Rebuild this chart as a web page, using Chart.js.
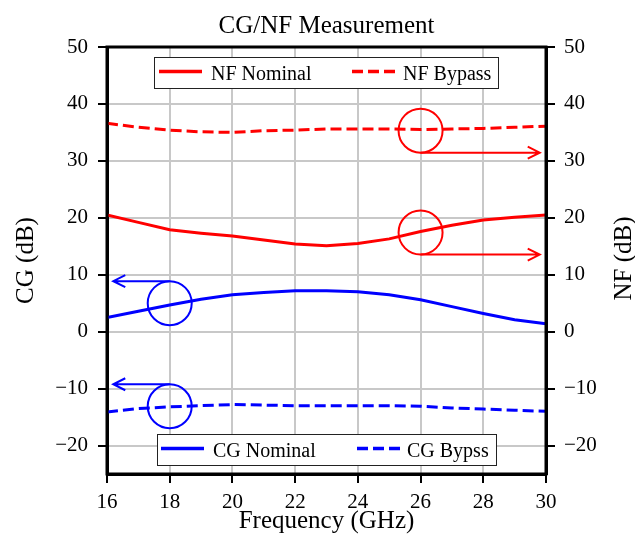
<!DOCTYPE html>
<html>
<head>
<meta charset="utf-8">
<title>CG/NF Measurement</title>
<script src="https://cdn.jsdelivr.net/npm/chart.js@4.4.1/dist/chart.umd.min.js"></script>
<style>
  html, body { margin: 0; padding: 0; background: #fff; }
  #wrap { width: 635px; height: 543px; }
</style>
</head>
<body>
<div id="wrap"><canvas id="cgnfChart" width="635" height="543"></canvas></div>
<script>
// frequência (GHz)
const freq = [16, 17, 18, 19, 20, 21, 22, 23, 24, 25, 26, 27, 28, 29, 30];

// séries (dB)
const nfNominal = [20.5, 19.2, 17.9, 17.3, 16.8, 16.1, 15.4, 15.1, 15.5, 16.3, 17.6, 18.7, 19.6, 20.1, 20.5];
const nfBypass  = [36.6, 35.9, 35.4, 35.1, 35.0, 35.3, 35.4, 35.6, 35.6, 35.6, 35.5, 35.6, 35.7, 35.9, 36.1];
const cgNominal = [2.5, 3.6, 4.7, 5.7, 6.5, 6.9, 7.2, 7.2, 7.0, 6.5, 5.6, 4.4, 3.2, 2.1, 1.4];
const cgBypass  = [-14.1, -13.5, -13.2, -13.0, -12.8, -12.9, -13.0, -13.0, -13.0, -13.0, -13.1, -13.4, -13.6, -13.8, -14.0];

// ticks
const xTicks = [16, 18, 20, 22, 24, 26, 28, 30];
const yTicks = [-20, -10, 0, 10, 20, 30, 40, 50];

// anotações: círculo (freq, dB) e seta até a freq indicada
const annoFreq   = [26, 26, 18, 18];
const annoDb     = [35.3, 17.4, 5.0, -13.1];
const annoArrowTo = [29.8, 29.8, 16.2, 16.2];
const annoSide   = ['bottom', 'bottom', 'top', 'top'];
const annoColor  = ['#ff0000', '#ff0000', '#0000ff', '#0000ff'];

const RED = '#ff0000';
const BLUE = '#0000ff';
const FONT = "'Liberation Serif', 'DejaVu Serif', serif";

function pts(arr) {
    return freq.map((f, i) => ({ x: f, y: arr[i] }));
}

const decorPlugin = {
    id: 'decor',
    afterDatasetsDraw(chart) {
        const ctx = chart.ctx;
        const area = chart.chartArea;
        const xs = chart.scales.x;
        const ys = chart.scales.y;

        // círculos e setas
        const r = 22;
        ctx.save();
        ctx.lineWidth = 2;
        annoFreq.forEach((f, i) => {
            const cx = xs.getPixelForValue(f);
            const cy = ys.getPixelForValue(annoDb[i]);
            ctx.strokeStyle = annoColor[i];
            ctx.beginPath();
            ctx.arc(cx, cy, r, 0, Math.PI * 2);
            ctx.stroke();

            const ay = annoSide[i] === 'bottom' ? cy + r : cy - r;
            const ax = xs.getPixelForValue(annoArrowTo[i]);
            const dir = ax > cx ? 1 : -1;
            ctx.beginPath();
            ctx.moveTo(cx, ay);
            ctx.lineTo(ax, ay);
            ctx.moveTo(ax - dir * 12, ay - 6);
            ctx.lineTo(ax, ay);
            ctx.lineTo(ax - dir * 12, ay + 6);
            ctx.stroke();
        });
        ctx.restore();

        // moldura
        ctx.save();
        ctx.strokeStyle = '#000';
        ctx.lineWidth = 3;
        ctx.strokeRect(area.left, area.top, area.right - area.left, area.bottom - area.top);
        ctx.restore();

        // legendas
        function legend(left, top, w, h, items) {
            ctx.save();
            ctx.fillStyle = '#fff';
            ctx.fillRect(left, top, w, h);
            ctx.strokeStyle = '#222';
            ctx.lineWidth = 1;
            ctx.strokeRect(left + 0.5, top + 0.5, w, h);
            ctx.font = '20px ' + FONT;
            ctx.textBaseline = 'alphabetic';
            ctx.textAlign = 'left';
            items.forEach(it => {
                ctx.strokeStyle = it.color;
                ctx.lineWidth = 3.5;
                ctx.setLineDash(it.dash);
                ctx.beginPath();
                ctx.moveTo(left + it.x0, top + h / 2 - 1);
                ctx.lineTo(left + it.x0 + 43, top + h / 2 - 1);
                ctx.stroke();
                ctx.setLineDash([]);
                ctx.fillStyle = '#000';
                ctx.fillText(it.label, left + it.tx, top + h / 2 + 7);
            });
            ctx.restore();
        }
        legend(area.left + 47, area.top + 10, 344, 31, [
            { label: 'NF Nominal', color: RED, dash: [], x0: 5, tx: 57 },
            { label: 'NF Bypass', color: RED, dash: [11, 5], x0: 198, tx: 249 }
        ]);
        legend(area.left + 50, area.bottom - 40, 339, 31, [
            { label: 'CG Nominal', color: BLUE, dash: [], x0: 4, tx: 56 },
            { label: 'CG Bypss', color: BLUE, dash: [11, 5], x0: 200, tx: 250 }
        ]);
    },
    afterDraw(chart) {
        const ctx = chart.ctx;
        const area = chart.chartArea;
        const midX = (area.left + area.right) / 2;
        const midY = (area.top + area.bottom) / 2;
        ctx.save();
        ctx.fillStyle = '#000';
        ctx.font = '25px ' + FONT;
        ctx.textAlign = 'center';
        ctx.textBaseline = 'alphabetic';
        ctx.fillText('CG/NF Measurement', midX, 33);
        ctx.fillText('Frequency (GHz)', midX, 528);

        ctx.save();
        ctx.translate(33, midY);
        ctx.rotate(-Math.PI / 2);
        ctx.fillText('CG (dB)', 0, 0);
        ctx.restore();

        ctx.save();
        ctx.translate(631, midY - 2);
        ctx.rotate(-Math.PI / 2);
        ctx.fillText('NF (dB)', 0, 0);
        ctx.restore();
        ctx.restore();
    }
};

const tickFont = { family: FONT, size: 21 };
const fmtMinus = v => String(v).replace('-', '\u2212');

function yAxis(position, width, onArea) {
    return {
        type: 'linear',
        position: position,
        min: -25,
        max: 50,
        afterBuildTicks: s => { s.ticks = yTicks.map(v => ({ value: v })); },
        afterFit: s => { s.width = width; },
        ticks: { color: '#000', font: tickFont, padding: position === 'left' ? 10 : 9, callback: fmtMinus },
        grid: {
            drawOnChartArea: onArea,
            color: '#c8c8c8',
            lineWidth: 2,
            tickColor: '#000',
            tickLength: 9,
            tickWidth: 2
        },
        border: { color: '#000', width: 3 }
    };
}

new Chart(document.getElementById('cgnfChart'), {
    type: 'line',
    data: {
        datasets: [
            { label: 'NF Nominal', data: pts(nfNominal), borderColor: RED, borderWidth: 3, yAxisID: 'y1' },
            { label: 'NF Bypass', data: pts(nfBypass), borderColor: RED, borderWidth: 3, borderDash: [11, 5], yAxisID: 'y1' },
            { label: 'CG Nominal', data: pts(cgNominal), borderColor: BLUE, borderWidth: 3, yAxisID: 'y' },
            { label: 'CG Bypss', data: pts(cgBypass), borderColor: BLUE, borderWidth: 3, borderDash: [11, 5], yAxisID: 'y' }
        ]
    },
    options: {
        responsive: false,
        animation: false,
        layout: { padding: { top: 47, left: 0, right: 0, bottom: 0 } },
        elements: { point: { radius: 0 }, line: { tension: 0, fill: false } },
        plugins: { legend: { display: false }, title: { display: false }, tooltip: { enabled: false } },
        scales: {
            x: {
                type: 'linear',
                min: 16,
                max: 30,
                afterBuildTicks: s => { s.ticks = xTicks.map(v => ({ value: v })); },
                afterFit: s => { s.height = 69; },
                ticks: { color: '#000', font: tickFont, padding: 7, maxRotation: 0 },
                grid: {
                    color: '#c8c8c8',
                    lineWidth: 2,
                    tickColor: '#000',
                    tickLength: 9,
                    tickWidth: 2
                },
                border: { color: '#000', width: 3 }
            },
            y: yAxis('left', 107, true),
            y1: yAxis('right', 89, false)
        }
    },
    plugins: [decorPlugin]
});
</script>
</body>
</html>
